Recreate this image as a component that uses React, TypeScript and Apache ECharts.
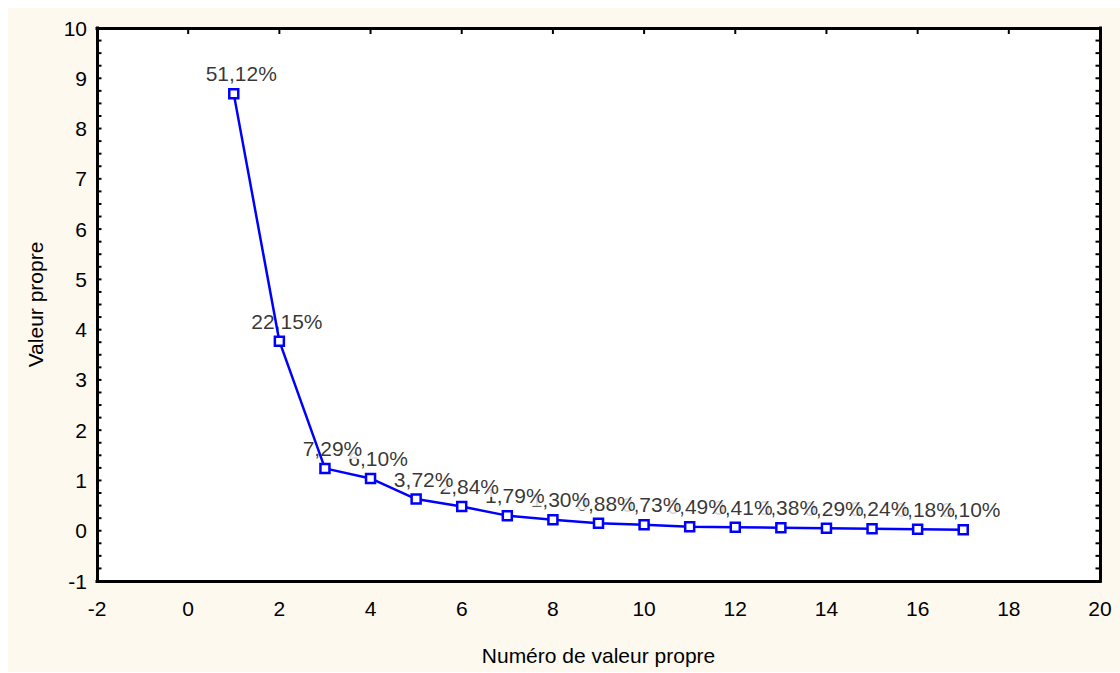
import React, { useEffect, useRef } from "react";
import * as echarts from "echarts";

const components = [1, 2, 3, 4, 5, 6, 7, 8, 9, 10, 11, 12, 13, 14, 15, 16, 17];
const eigenvalues = [8.69, 3.77, 1.24, 1.04, 0.63, 0.48, 0.3, 0.22, 0.15, 0.12, 0.08, 0.07, 0.06, 0.05, 0.04, 0.03, 0.02];
const percentLabels = [
  "51,12%", "22,15%", "7,29%", "6,10%", "3,72%", "2,84%", "1,79%", "1,30%", "0,88%",
  "0,73%", "0,49%", "0,41%", "0,38%", "0,29%", "0,24%", "0,18%", "0,10%",
];
const xRange = [-2, 20];
const yRange = [-1, 10];
const xInterval = 2;
const yMinorStep = 0.25;
const xAxisTitle = "Numéro de valeur propre";
const yAxisTitle = "Valeur propre";

const FONT = "'Liberation Sans', Arial, sans-serif";
const FS = 21;

export default function App() {
  const ref = useRef<HTMLDivElement>(null);

  useEffect(() => {
    document.body.style.margin = "0";
    const chart = echarts.init(ref.current!, null, { renderer: "svg" });
    const points = components.map((c, i) => [c, eigenvalues[i]]);
    const labelData = components
      .map((c, i) => ({ value: [c, eigenvalues[i]], name: percentLabels[i] }))
      .reverse();

    // frame tick marks: [x, y, direction] (1 = left edge, -1 = right edge, 0 = top edge)
    const tickData: number[][] = [];
    const nY = Math.round((yRange[1] - yRange[0]) / yMinorStep);
    for (let k = 1; k < nY; k++) {
      const v = yRange[0] + k * yMinorStep;
      tickData.push([xRange[0], v, 1]);
      tickData.push([xRange[1], v, -1]);
    }
    const nX = Math.round((xRange[1] - xRange[0]) / xInterval);
    for (let k = 1; k < nX; k++) {
      tickData.push([xRange[0] + k * xInterval, yRange[1], 0]);
    }

    const frameLine = { show: true, onZero: false, lineStyle: { color: "#000", width: 3, cap: "square" } };

    const yCommon = {
      type: "value",
      min: yRange[0],
      max: yRange[1],
      interval: 1,
      z: 5,
      axisLine: frameLine,
      splitLine: { show: false },
      axisTick: { show: false },
    };

    chart.setOption({
      animation: false,
      backgroundColor: "#fdf9ef",
      textStyle: { fontFamily: FONT },
      grid: { left: 89, top: 20, right: 20, bottom: 91 },
      xAxis: [
        {
          type: "value",
          min: xRange[0],
          max: xRange[1],
          interval: xInterval,
          position: "bottom",
          z: 5,
          axisLine: frameLine,
          axisTick: { show: false },
          splitLine: { show: false },
          axisLabel: { color: "#000", fontSize: FS, margin: 17, fontFamily: FONT },
          name: xAxisTitle,
          nameLocation: "middle",
          nameGap: 64,
          nameTextStyle: { color: "#000", fontSize: FS, fontFamily: FONT },
        },
        {
          type: "value",
          min: xRange[0],
          max: xRange[1],
          interval: xInterval,
          position: "top",
          z: 5,
          axisLine: frameLine,
          axisTick: { show: false },
          axisLabel: { show: false },
          splitLine: { show: false },
        },
      ],
      yAxis: [
        {
          ...yCommon,
          position: "left",
          axisLabel: { color: "#000", fontSize: FS, margin: 10, fontFamily: FONT },
          name: yAxisTitle,
          nameLocation: "middle",
          nameGap: 51,
          nameRotate: 90,
          nameTextStyle: { color: "#000", fontSize: FS, fontFamily: FONT },
        },
        {
          ...yCommon,
          position: "right",
          axisLabel: { show: false },
        },
      ],
      series: [
        {
          type: "line",
          data: [],
          z: 0,
          silent: true,
          markArea: {
            silent: true,
            itemStyle: { color: "#ffffff" },
            label: { show: false },
            data: [[{ coord: [xRange[0], yRange[0]] }, { coord: [xRange[1], yRange[1]] }]],
          },
        },
        {
          type: "scatter",
          data: labelData,
          symbolSize: 1,
          itemStyle: { color: "rgba(0,0,0,0)" },
          z: 1,
          silent: true,
          emphasis: { disabled: true },
          label: {
            show: true,
            position: "top",
            distance: 9,
            offset: [7.5, 0],
            formatter: (p: any) => p.name,
            color: "#000",
            fontSize: FS,
            fontFamily: FONT,
            backgroundColor: "#ffffff",
            padding: [0, 0],
          },
        },
        {
          type: "line",
          data: points,
          z: 3,
          symbol: "rect",
          symbolSize: 9,
          showSymbol: true,
          emphasis: { disabled: true },
          lineStyle: { color: "#0000ff", width: 2.5 },
          itemStyle: { color: "#ffffff", borderColor: "#0000ff", borderWidth: 2.5 },
        },
        {
          type: "custom",
          data: tickData,
          z: 6,
          silent: true,
          clip: false,
          encode: { x: 0, y: 1 },
          renderItem: (_params: any, api: any) => {
            const p = api.coord([api.value(0), api.value(1)]);
            const dir = api.value(2);
            const shape =
              dir === 0
                ? { x1: p[0], y1: p[1], x2: p[0], y2: p[1] + 6 }
                : { x1: p[0], y1: p[1], x2: p[0] + dir * 4.5, y2: p[1] };
            return { type: "line", shape, style: { stroke: "#000", lineWidth: 2 } };
          },
        },
      ],
    });
    return () => chart.dispose();
  }, []);

  return (
    <div style={{ position: "relative", width: 1120, height: 673, background: "#ffffff" }}>
      <div ref={ref} style={{ position: "absolute", left: 8, top: 8, width: 1112, height: 664 }} />
    </div>
  );
}
